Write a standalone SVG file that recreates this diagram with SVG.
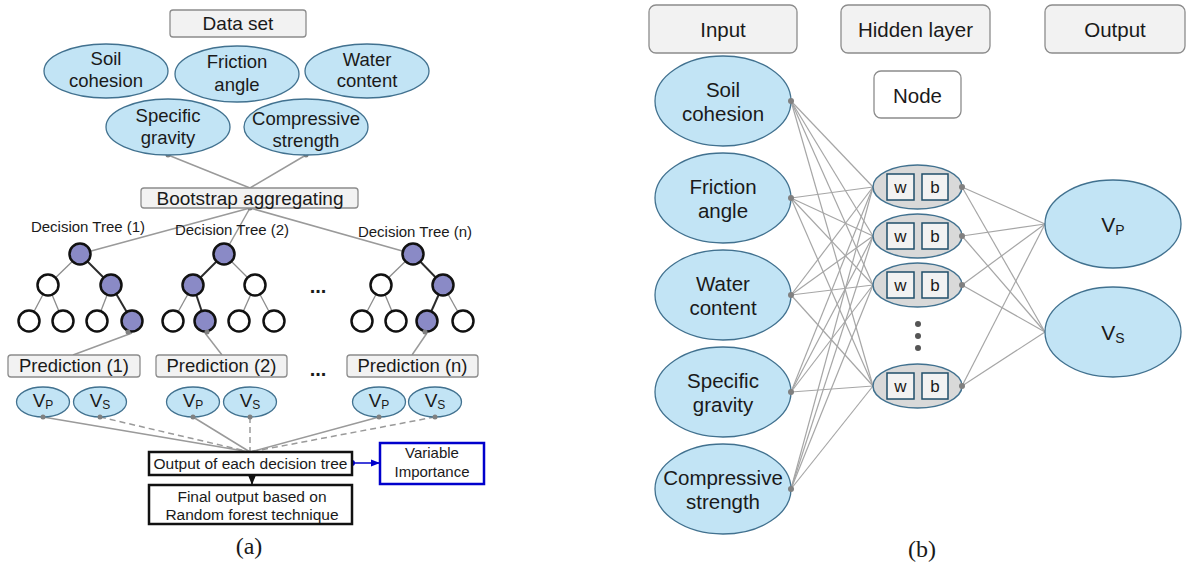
<svg xmlns="http://www.w3.org/2000/svg" width="1189" height="567" viewBox="0 0 1189 567">
<defs>
<style>
text{font-family:"Liberation Sans",Arial,sans-serif;fill:#1a1a1a;text-anchor:middle}
.box{fill:#f2f2f2;stroke:#8c8c8c;stroke-width:1.3}
.ell{fill:#c2e4f5;stroke:#41718f;stroke-width:1.3}
.tf{fill:#8a8ac6;stroke:#111;stroke-width:2.5}
.te{fill:#fff;stroke:#111;stroke-width:2.5}
.eg{stroke:#8c8c8c;stroke-width:1.3}
.ed{stroke:#2b2b2b;stroke-width:2}
.cn{stroke:#9a9a9a;stroke-width:1.5;fill:none}
.dash{stroke-dasharray:6,4}
.dot{fill:#808080}
.nn{stroke:#a6a6a6;stroke-width:1.2}
.hid{fill:#d9d9d9;stroke:#41718f;stroke-width:1.5}
.wb{fill:#f2f2f2;stroke:#1f4e6a;stroke-width:1.5}
.s18{font-size:18.5px}
.s20{font-size:20.5px}
.cap{font-family:"Liberation Serif","Times New Roman",serif;font-size:24px}
</style>
<marker id="ab" viewBox="0 0 10 10" refX="10" refY="5" markerWidth="6" markerHeight="6" orient="auto"><path d="M0,1 L10,5 L0,9 z" fill="#0000cc"/></marker>
<marker id="ak" viewBox="0 0 10 10" refX="10" refY="5" markerWidth="6" markerHeight="6" orient="auto"><path d="M0,1 L10,5 L0,9 z" fill="#111"/></marker>
</defs>

<!-- ===== Panel (a) connectors ===== -->
<g id="connectors-a">
  <line class="cn" x1="168" y1="155" x2="250" y2="188"/>
  <line class="cn" x1="306" y1="155" x2="250" y2="188"/>
  <line class="cn" x1="250" y1="208" x2="80" y2="254"/>
  <line class="cn" x1="250" y1="208" x2="224" y2="254"/>
  <line class="cn" x1="250" y1="208" x2="413" y2="254"/>
  <!-- tree 1 edges -->
  <line class="eg" x1="80" y1="254" x2="48" y2="285"/>
  <line class="ed" x1="80" y1="254" x2="111" y2="285"/>
  <line class="eg" x1="48" y1="285" x2="29" y2="321"/>
  <line class="eg" x1="48" y1="285" x2="63" y2="321"/>
  <line class="eg" x1="111" y1="285" x2="97" y2="321"/>
  <line class="ed" x1="111" y1="285" x2="132" y2="321"/>
  <!-- tree 2 edges -->
  <line class="ed" x1="224" y1="254" x2="193" y2="285"/>
  <line class="eg" x1="224" y1="254" x2="255" y2="285"/>
  <line class="eg" x1="193" y1="285" x2="173" y2="321"/>
  <line class="ed" x1="193" y1="285" x2="205" y2="321"/>
  <line class="eg" x1="255" y1="285" x2="239" y2="321"/>
  <line class="eg" x1="255" y1="285" x2="274" y2="321"/>
  <!-- tree n edges -->
  <line class="eg" x1="413" y1="254" x2="381" y2="285"/>
  <line class="ed" x1="413" y1="254" x2="443" y2="285"/>
  <line class="eg" x1="381" y1="285" x2="362" y2="321"/>
  <line class="eg" x1="381" y1="285" x2="396" y2="321"/>
  <line class="ed" x1="443" y1="285" x2="427" y2="321"/>
  <line class="eg" x1="443" y1="285" x2="463" y2="321"/>
  <!-- leaves to predictions -->
  <line class="cn" x1="132" y1="333" x2="73" y2="355"/>
  <line class="cn" x1="205" y1="333" x2="222" y2="355"/>
  <line class="cn" x1="427" y1="333" x2="412" y2="355"/>
  <!-- VP/VS to output -->
  <line class="cn" x1="43" y1="417" x2="250" y2="452"/>
  <line class="cn dash" x1="100" y1="417" x2="250" y2="452"/>
  <line class="cn" x1="193" y1="417" x2="250" y2="452"/>
  <line class="cn dash" x1="250" y1="417" x2="250" y2="452"/>
  <line class="cn" x1="379" y1="417" x2="250" y2="452"/>
  <line class="cn dash" x1="435" y1="417" x2="250" y2="452"/>
  <!-- output arrows -->
  <line x1="352" y1="463" x2="380" y2="463" stroke="#0000cc" stroke-width="1.5" marker-end="url(#ab)"/>
  <circle cx="352" cy="463" r="3" fill="#0000cc"/>
  <line x1="252" y1="476" x2="252" y2="485" stroke="#111" stroke-width="1.5" marker-end="url(#ak)"/>
  <circle cx="252" cy="476" r="3" fill="#111"/>
  <circle class="dot" cx="168" cy="155" r="2.5"/>
  <circle class="dot" cx="306" cy="155" r="2.5"/>
  <circle class="dot" cx="250" cy="208" r="2.5"/>
</g>

<!-- ===== Panel (a) nodes ===== -->
<g id="dataset"><rect class="box" x="170" y="10" width="136" height="27" rx="3"/><text x="238" y="30" font-size="19">Data set</text></g>
<g id="in-soil-a"><ellipse class="ell" cx="106" cy="71" rx="62" ry="27"/><text class="s18" x="106" y="65">Soil</text><text class="s18" x="106" y="87">cohesion</text></g>
<g id="in-friction-a"><ellipse class="ell" cx="237" cy="74" rx="62" ry="28"/><text class="s18" x="237" y="68">Friction</text><text class="s18" x="237" y="91">angle</text></g>
<g id="in-water-a"><ellipse class="ell" cx="367" cy="71" rx="62" ry="27"/><text class="s18" x="367" y="66">Water</text><text class="s18" x="367" y="87">content</text></g>
<g id="in-gravity-a"><ellipse class="ell" cx="168" cy="127" rx="62" ry="28"/><text class="s18" x="168" y="122">Specific</text><text class="s18" x="168" y="144">gravity</text></g>
<g id="in-strength-a"><ellipse class="ell" cx="306" cy="127" rx="62" ry="28"/><text class="s18" x="306" y="125">Compressive</text><text class="s18" x="306" y="147">strength</text></g>
<g id="bootstrap"><rect class="box" x="141" y="188" width="217" height="20" rx="3"/><text x="250" y="204.5" font-size="19">Bootstrap aggregating</text></g>

<g id="tree1">
  <text x="88" y="232" font-size="15">Decision Tree (1)</text>
  <circle class="tf" cx="80" cy="254" r="10.5"/>
  <circle class="te" cx="48" cy="285" r="10.5"/><circle class="tf" cx="111" cy="285" r="10.5"/>
  <circle class="te" cx="29" cy="321" r="10.5"/><circle class="te" cx="63" cy="321" r="10.5"/>
  <circle class="te" cx="97" cy="321" r="10.5"/><circle class="tf" cx="132" cy="321" r="10.5"/>
  <circle class="dot" cx="128" cy="332" r="2.5"/>
</g>
<g id="tree2">
  <text x="232" y="235" font-size="15">Decision Tree (2)</text>
  <circle class="tf" cx="224" cy="254" r="10.5"/>
  <circle class="tf" cx="193" cy="285" r="10.5"/><circle class="te" cx="255" cy="285" r="10.5"/>
  <circle class="te" cx="173" cy="321" r="10.5"/><circle class="tf" cx="205" cy="321" r="10.5"/>
  <circle class="te" cx="239" cy="321" r="10.5"/><circle class="te" cx="274" cy="321" r="10.5"/>
  <circle class="dot" cx="207" cy="332" r="2.5"/>
</g>
<g id="treen">
  <text x="415" y="237" font-size="15">Decision Tree (n)</text>
  <circle class="tf" cx="413" cy="254" r="10.5"/>
  <circle class="te" cx="381" cy="285" r="10.5"/><circle class="tf" cx="443" cy="285" r="10.5"/>
  <circle class="te" cx="362" cy="321" r="10.5"/><circle class="te" cx="396" cy="321" r="10.5"/>
  <circle class="tf" cx="427" cy="321" r="10.5"/><circle class="te" cx="463" cy="321" r="10.5"/>
  <circle class="dot" cx="425" cy="332" r="2.5"/>
</g>
<text x="318" y="293" font-size="20" font-weight="bold">...</text>

<g id="pred1"><rect class="box" x="8" y="355" width="132" height="22" rx="3"/><text class="s18" x="74" y="372">Prediction (1)</text></g>
<g id="pred2"><rect class="box" x="156" y="355" width="131" height="22" rx="3"/><text class="s18" x="221.5" y="372">Prediction (2)</text></g>
<g id="predn"><rect class="box" x="347" y="355" width="131" height="22" rx="3"/><text class="s18" x="412.5" y="372">Prediction (n)</text></g>
<text x="318" y="376" font-size="20" font-weight="bold">...</text>

<g id="vp1"><ellipse class="ell" cx="43" cy="402" rx="26.5" ry="15"/><text x="43" y="407" font-size="19">V<tspan font-size="12" dy="2">P</tspan></text><circle class="dot" cx="43" cy="417" r="2.5"/></g>
<g id="vs1"><ellipse class="ell" cx="100" cy="402" rx="26.5" ry="15"/><text x="100" y="407" font-size="19">V<tspan font-size="12" dy="2">S</tspan></text><circle class="dot" cx="100" cy="417" r="2.5"/></g>
<g id="vp2"><ellipse class="ell" cx="193" cy="402" rx="26.5" ry="15"/><text x="193" y="407" font-size="19">V<tspan font-size="12" dy="2">P</tspan></text><circle class="dot" cx="193" cy="417" r="2.5"/></g>
<g id="vs2"><ellipse class="ell" cx="250" cy="402" rx="26.5" ry="15"/><text x="250" y="407" font-size="19">V<tspan font-size="12" dy="2">S</tspan></text><circle class="dot" cx="250" cy="417" r="2.5"/></g>
<g id="vpn"><ellipse class="ell" cx="379" cy="402" rx="26.5" ry="15"/><text x="379" y="407" font-size="19">V<tspan font-size="12" dy="2">P</tspan></text><circle class="dot" cx="379" cy="417" r="2.5"/></g>
<g id="vsn"><ellipse class="ell" cx="435" cy="402" rx="26.5" ry="15"/><text x="435" y="407" font-size="19">V<tspan font-size="12" dy="2">S</tspan></text><circle class="dot" cx="435" cy="417" r="2.5"/></g>

<g id="output-each"><rect x="149" y="452" width="203" height="23" fill="#fff" stroke="#111" stroke-width="2.5"/><text x="250.5" y="468.5" font-size="15.5">Output of each decision tree</text></g>
<g id="variable-importance"><rect x="380" y="443" width="104" height="41" fill="#fff" stroke="#0000cc" stroke-width="2.5"/><text x="432" y="458" font-size="15">Variable</text><text x="432" y="477" font-size="15">Importance</text></g>
<g id="final-output"><rect x="149" y="485" width="203" height="39" fill="#fff" stroke="#111" stroke-width="2.5"/><text x="252" y="502" font-size="15.5">Final output based on</text><text x="252" y="520" font-size="15.5">Random forest technique</text></g>
<text class="cap" x="249" y="554">(a)</text>

<!-- ===== Panel (b) connectors ===== -->
<g id="connectors-b">
  <line class="nn" x1="791" y1="101" x2="873" y2="187"/><line class="nn" x1="791" y1="101" x2="873" y2="236"/><line class="nn" x1="791" y1="101" x2="873" y2="285"/><line class="nn" x1="791" y1="101" x2="873" y2="386"/>
  <line class="nn" x1="791" y1="198" x2="873" y2="187"/><line class="nn" x1="791" y1="198" x2="873" y2="236"/><line class="nn" x1="791" y1="198" x2="873" y2="285"/><line class="nn" x1="791" y1="198" x2="873" y2="386"/>
  <line class="nn" x1="791" y1="295" x2="873" y2="187"/><line class="nn" x1="791" y1="295" x2="873" y2="236"/><line class="nn" x1="791" y1="295" x2="873" y2="285"/><line class="nn" x1="791" y1="295" x2="873" y2="386"/>
  <line class="nn" x1="791" y1="392" x2="873" y2="187"/><line class="nn" x1="791" y1="392" x2="873" y2="236"/><line class="nn" x1="791" y1="392" x2="873" y2="285"/><line class="nn" x1="791" y1="392" x2="873" y2="386"/>
  <line class="nn" x1="791" y1="489" x2="873" y2="187"/><line class="nn" x1="791" y1="489" x2="873" y2="236"/><line class="nn" x1="791" y1="489" x2="873" y2="285"/><line class="nn" x1="791" y1="489" x2="873" y2="386"/>
  <line class="nn" x1="962" y1="187" x2="1045" y2="224"/><line class="nn" x1="962" y1="187" x2="1045" y2="332"/>
  <line class="nn" x1="962" y1="236" x2="1045" y2="224"/><line class="nn" x1="962" y1="236" x2="1045" y2="332"/>
  <line class="nn" x1="962" y1="285" x2="1045" y2="224"/><line class="nn" x1="962" y1="285" x2="1045" y2="332"/>
  <line class="nn" x1="962" y1="386" x2="1045" y2="224"/><line class="nn" x1="962" y1="386" x2="1045" y2="332"/>
</g>

<!-- ===== Panel (b) nodes ===== -->
<g id="hdr-input"><rect class="box" x="649" y="5" width="148" height="48" rx="7"/><text class="s20" x="723" y="37">Input</text></g>
<g id="hdr-hidden"><rect class="box" x="841" y="5" width="149" height="48" rx="7"/><text class="s20" x="915.5" y="37">Hidden layer</text></g>
<g id="hdr-output"><rect class="box" x="1045" y="5" width="140" height="48" rx="7"/><text class="s20" x="1115" y="37">Output</text></g>
<g id="legend-node"><rect x="874" y="71" width="87" height="47" rx="7" fill="#fff" stroke="#8c8c8c" stroke-width="1.3"/><text class="s20" x="917.5" y="103">Node</text></g>

<g id="in-soil-b"><ellipse class="ell" cx="723" cy="101" rx="68" ry="45"/><text class="s20" x="723" y="97">Soil</text><text class="s20" x="723" y="121">cohesion</text><circle class="dot" cx="791" cy="101" r="3"/></g>
<g id="in-friction-b"><ellipse class="ell" cx="723" cy="198" rx="68" ry="45"/><text class="s20" x="723" y="194">Friction</text><text class="s20" x="723" y="218">angle</text><circle class="dot" cx="791" cy="198" r="3"/></g>
<g id="in-water-b"><ellipse class="ell" cx="723" cy="295" rx="68" ry="45"/><text class="s20" x="723" y="291">Water</text><text class="s20" x="723" y="315">content</text><circle class="dot" cx="791" cy="295" r="3"/></g>
<g id="in-gravity-b"><ellipse class="ell" cx="723" cy="392" rx="68" ry="45"/><text class="s20" x="723" y="388">Specific</text><text class="s20" x="723" y="412">gravity</text><circle class="dot" cx="791" cy="392" r="3"/></g>
<g id="in-strength-b"><ellipse class="ell" cx="723" cy="489" rx="68" ry="45"/><text class="s20" x="723" y="485">Compressive</text><text class="s20" x="723" y="509">strength</text><circle class="dot" cx="791" cy="489" r="3"/></g>

<g id="hidden1"><ellipse class="hid" cx="917.5" cy="187" rx="44.5" ry="22"/><rect class="wb" x="887" y="174" width="27" height="26"/><rect class="wb" x="922" y="174" width="26" height="26"/><text x="900.5" y="193" font-size="17">w</text><text x="935" y="193" font-size="17">b</text><circle class="dot" cx="962" cy="187" r="3"/></g>
<g id="hidden2"><ellipse class="hid" cx="917.5" cy="236" rx="44.5" ry="22"/><rect class="wb" x="887" y="223" width="27" height="26"/><rect class="wb" x="922" y="223" width="26" height="26"/><text x="900.5" y="242" font-size="17">w</text><text x="935" y="242" font-size="17">b</text><circle class="dot" cx="962" cy="236" r="3"/></g>
<g id="hidden3"><ellipse class="hid" cx="917.5" cy="285" rx="44.5" ry="22"/><rect class="wb" x="887" y="272" width="27" height="26"/><rect class="wb" x="922" y="272" width="26" height="26"/><text x="900.5" y="291" font-size="17">w</text><text x="935" y="291" font-size="17">b</text><circle class="dot" cx="962" cy="285" r="3"/></g>
<g id="hidden-dots"><circle cx="918" cy="324" r="3" fill="#555"/><circle cx="918" cy="336" r="3" fill="#555"/><circle cx="918" cy="348" r="3" fill="#555"/></g>
<g id="hidden4"><ellipse class="hid" cx="917.5" cy="386" rx="44.5" ry="22"/><rect class="wb" x="887" y="373" width="27" height="26"/><rect class="wb" x="922" y="373" width="26" height="26"/><text x="900.5" y="392" font-size="17">w</text><text x="935" y="392" font-size="17">b</text><circle class="dot" cx="962" cy="386" r="3"/></g>

<g id="out-vp"><ellipse class="ell" cx="1113" cy="224" rx="68" ry="44"/><text x="1113" y="232" font-size="21">V<tspan font-size="14" dy="3">P</tspan></text></g>
<g id="out-vs"><ellipse class="ell" cx="1113" cy="332" rx="68" ry="45"/><text x="1113" y="340" font-size="21">V<tspan font-size="14" dy="3">S</tspan></text></g>
<text class="cap" x="922" y="557">(b)</text>
</svg>
